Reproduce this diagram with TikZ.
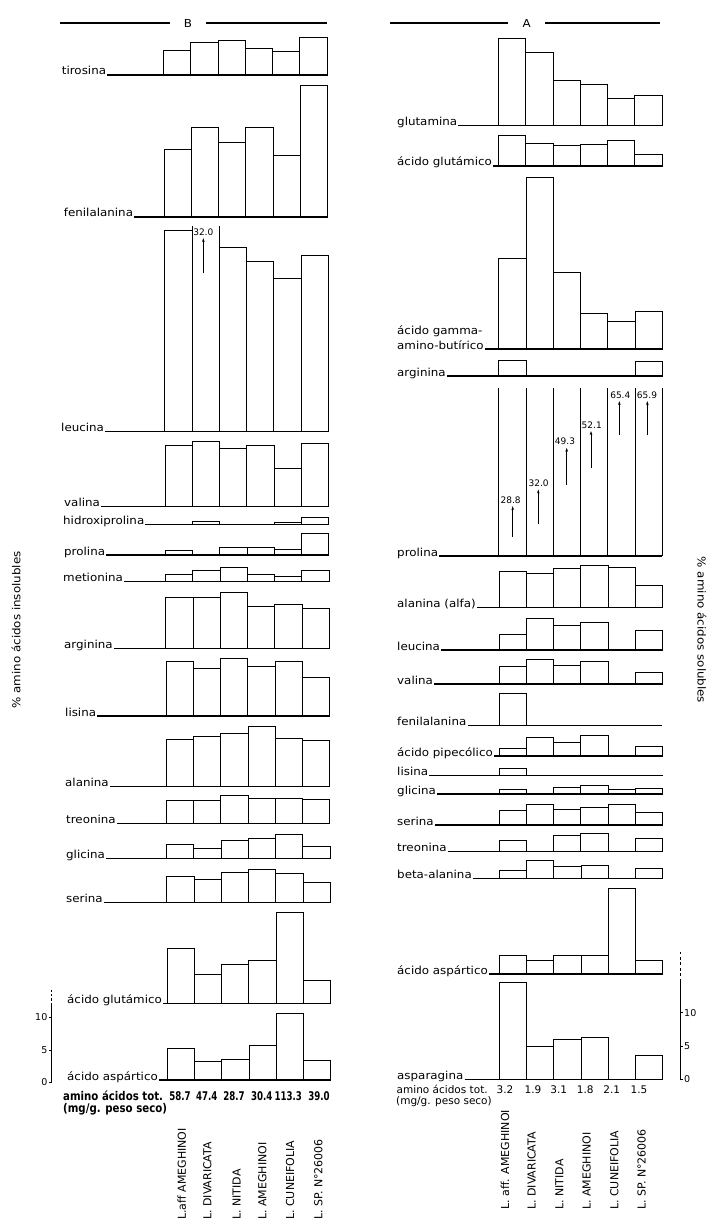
\documentclass[tikz,border=0pt]{standalone}
\usepackage{fontspec}
\setmainfont{DejaVu Sans}
\newfontfamily\labf[FakeStretch=1.08]{DejaVu Sans}
\newfontfamily\condf[FakeStretch=0.85]{DejaVu Sans}
\newfontfamily\condnf[FakeStretch=0.72]{DejaVu Sans}
\usetikzlibrary{arrows.meta}
\tikzset{
  lab/.style={anchor=base west, inner sep=1pt, font=\labf\fontsize{11}{12}\selectfont},
  barbox/.style={line width=0.7pt},
  axisln/.style={line width=1.1pt},
  titleln/.style={line width=1.6pt},
  ttl/.style={inner xsep=14pt, inner ysep=0pt, font=\labf\fontsize{11}{12}\selectfont},
  numl/.style={inner sep=1pt, font=\fontsize{9}{10}\selectfont},
  arr/.style={-{Stealth[length=4pt,width=2.6pt]}, line width=0.7pt, shorten >=1.5pt},
  spl/.style={rotate=90, anchor=west, inner sep=0pt, font=\fontsize{11}{12}\selectfont},
  yttl/.style={inner sep=0pt, font=\labf\fontsize{11}{12}\selectfont},
  brow/.style={inner sep=0pt, anchor=base west, font=\condf\bfseries\fontsize{12}{13}\selectfont},
  bnum/.style={inner sep=0pt, anchor=base, font=\condnf\bfseries\fontsize{12}{13}\selectfont},
  rrow/.style={inner sep=0pt, anchor=base west, font=\fontsize{10.5}{11}\selectfont},
  tick/.style={line width=1pt},
  ticklab/.style={inner sep=0pt, font=\fontsize{9.5}{10}\selectfont}
}
% #1 name, #2 panel x0 (at y=40), #3 skew, #4 label x, #5 baseline y, #6 text, #7 tops
\newcommand\chartrow[7]{%
  \pgfmathsetmacro\bx{#2+#3*(#5-40)/1040}%
  \foreach \t [count=\i from 0] in {#7}{%
    \ifdim \t pt>0pt
      \draw[barbox] ({\bx+\i*27.25},#5) rectangle ({\bx+(\i+1)*27.25},\t);
    \else\ifdim \t pt<0pt
      \draw[barbox] ({\bx+\i*27.25},#5) -- ({\bx+\i*27.25},{-\t})
                    ({\bx+(\i+1)*27.25},#5) -- ({\bx+(\i+1)*27.25},{-\t});
    \fi\fi
  }%
  \node[lab] (#1) at (#4,#5) {#6};
  \coordinate (#1e) at ({\bx+163.5},#5);
  \draw[axisln] (#1.base east) -- (#1e);
}
\begin{document}
\begin{tikzpicture}[x=1pt,y=-1pt]
\useasboundingbox (0,0) rectangle (709,1222);

% titles
\node[ttl] (tB) at (188,23) {B};
\coordinate (tBl) at (60,23); \coordinate (tBr) at (327,23);
\draw[titleln] (tBl) -- (tB.west) (tB.east) -- (tBr);
\node[ttl] (tA) at (526.7,23) {A};
\coordinate (tAl) at (390,23); \coordinate (tAr) at (660,23);
\draw[titleln] (tAl) -- (tA.west) (tA.east) -- (tAr);

% ---------- panel B (insolubles) ----------
\chartrow{Ltir}{163.3}{4}{60.7}{75}{tirosina}{50,42.7,40.3,48.3,51.7,37.3}
\chartrow{Lfen}{163.3}{4}{62.7}{217}{fenilalanina}{149.3,127,142.7,127,155.7,85}
\chartrow{Lleu}{163.3}{4}{60}{431.7}{leucina}{230.7,-226,247.3,261,278.3,255.7}
\chartrow{Lval}{163.3}{4}{63}{506.7}{valina}{445.3,441.3,448.7,445.3,468.3,443.7}
\chartrow{Lhid}{163.3}{4}{62}{524.3}{hidroxiprolina}{0,521.7,0,0,522,517.7}
\chartrow{Lpro}{163.3}{4}{63}{555}{prolina}{550.7,0,547.7,547,549.3,533.3}
\chartrow{Lmet}{163.3}{4}{62}{581.7}{metionina}{574.3,570.7,567.3,574,576,570.3}
\chartrow{Larg}{163.3}{4}{63}{648.3}{arginina}{597.3,597.3,592.7,606,604,608}
\chartrow{Llis}{163.3}{4}{64}{716}{lisina}{661.7,668.7,658,666.7,661,677.3}
\chartrow{Lala}{163.3}{4}{64}{786.7}{alanina}{739,736.7,733.3,726.7,738.3,740}
\chartrow{Ltre}{163.3}{4}{65}{823.3}{treonina}{800.7,800.7,795,798.3,798.3,799.3}
\chartrow{Lgli}{163.3}{4}{65}{858.3}{glicina}{844.3,848,840.7,838.3,834.3,846.7}
\chartrow{Lser}{163.3}{4}{65}{902.7}{serina}{876,879.3,872.7,869.3,873.3,882}
\chartrow{Lglu}{163.3}{4}{66}{1003.3}{ácido glutámico}{948.7,974.7,964.3,960.7,912.3,980.7}
\chartrow{Lasp}{163.3}{4}{66}{1080}{ácido aspártico}{1048.3,1061.3,1059,1045,1013.3,1060.3}

\node[numl] (L32) at (203.3,232) {32.0};
\coordinate (L32a) at (203.3,273.3);
\draw[arr] (L32a) -- (L32a |- L32.south);

% left scale
\coordinate (Lax0) at (51.7,1082); \coordinate (Lax1) at (51.7,1005); \coordinate (Lax2) at (51.7,990);
\draw[tick] (Lax0) -- (Lax1);
\draw[tick, dashed, dash pattern=on 2.5pt off 2pt] (Lax1) -- (Lax2);
\draw[tick] (51.7,1082) -- ++(-3,0) (51.7,1050) -- ++(-3,0) (51.7,1017) -- ++(-3,0);
\node[ticklab, anchor=east] (Lt0) at (47.5,1082) {0};
\node[ticklab, anchor=east] (Lt5) at (47.5,1050) {5};
\node[ticklab, anchor=east] (Lt10) at (47.5,1017) {10};

\node[brow] (LtotA) at (63,1100) {amino ácidos tot.};
\foreach \v/\x [count=\k] in {58.7/180,47.4/206.7,28.7/234,30.4/261.7,113.3/288.3,39.0/319}
  \node[bnum] (Ln\k) at (\x,1100) {\v};
\node[brow] (LtotB) at (63,1112.5) {(mg/g. peso seco)};

\node[spl] (Ls1) at (181.7,1220) {L.aff AMEGHINOI};
\node[spl] (Ls2) at (207.3,1220) {L. DIVARICATA};
\node[spl] (Ls3) at (236.7,1220) {L. NITIDA};
\node[spl] (Ls4) at (262.3,1220) {L. AMEGHINOI};
\node[spl] (Ls5) at (290,1220) {L. CUNEIFOLIA};
\node[spl] (Ls6) at (318.3,1220) {L. SP. N°26006};

\node[yttl, rotate=90] (yL) at (16,630) {\% amino ácidos insolubles};

% ---------- panel A (solubles) ----------
\chartrow{Rglm}{498.3}{1}{396}{125.7}{glutamina}{38.3,52.7,80,84.3,98.3,95.7}
\chartrow{Rglu}{498.3}{1}{396}{166}{ácido glutámico}{135.3,143.3,145.3,144,140.3,154.3}
\chartrow{Rgab}{498.3}{1}{396}{349}{amino-butírico}{258.7,177.3,272.7,313.7,321,311}
\node[lab] (Rgab1) at (396,334) {ácido gamma-};
\chartrow{Rarg}{498.3}{1}{396}{376}{arginina}{360,0,0,0,0,361.3}
\chartrow{Rpro}{498.3}{1}{396}{556}{prolina}{-388.3,-388.3,-388.3,-388.3,-388.3,-388.3}
\chartrow{Rala}{498.3}{1}{396}{607.7}{alanina (alfa)}{571.7,573.3,568.3,565.7,567.7,585}
\chartrow{Rleu}{498.3}{1}{396}{650}{leucina}{634.3,618.3,625.3,622.3,0,630}
\chartrow{Rval}{498.3}{1}{396}{684}{valina}{666,659.3,665,661.3,0,672.3}
\chartrow{Rfen}{498.3}{1}{396}{725.3}{fenilalanina}{693.3,0,0,0,0,0}
\chartrow{Rpip}{498.3}{1}{396}{756}{ácido pipecólico}{748.3,737.7,742.3,735,0,746.7}
\chartrow{Rlis}{498.3}{1}{396}{775.7}{lisina}{768.7,0,0,0,0,0}
\chartrow{Rgli}{498.3}{1}{396}{794}{glicina}{789.3,0,787.3,785.3,789.3,788}
\chartrow{Rser}{498.3}{1}{396}{825}{serina}{810.7,804,809.3,807.7,804.3,812.3}
\chartrow{Rtre}{498.3}{1}{396}{851.7}{treonina}{840.7,0,835.3,833.3,0,838.3}
\chartrow{Rbal}{498.3}{1}{396}{878.3}{beta-alanina}{870.7,860,866,865,0,868.3}
\chartrow{Rasp}{498.3}{1}{396}{974}{ácido aspártico}{955,960,955.7,955.7,888.3,960.7}
\chartrow{Rasn}{498.3}{1}{396}{1079.3}{asparagina}{982.7,1046.7,1039.3,1037.3,0,1055.7}

% prolina values
\foreach \v/\x/\y/\ax/\ay [count=\k] in {28.8/510.7/500/512.7/536.7, 32.0/538.7/483.3/538.3/524,
   49.3/565/441.7/566.7/485, 52.1/591.7/425/591/468.3, 65.4/620.3/395/619.3/435, 65.9/647/395/647.3/435}{
  \node[numl] (pr\k) at (\x,\y) {\v};
  \coordinate (pa\k) at (\ax,\ay);
  \draw[arr] (pa\k) -- (pa\k |- pr\k.south);
}

% right scale
\coordinate (Rax0) at (680,1079.3); \coordinate (Rax1) at (680,981.7); \coordinate (Rax2) at (680,951.7);
\draw[tick] (Rax0) -- (Rax1);
\draw[tick, dashed, dash pattern=on 3pt off 2.5pt] (Rax1) -- (Rax2);
\draw[tick] (680,1079.3) -- ++(3,0) (680,1046) -- ++(3,0) (680,1012.7) -- ++(3,0);
\node[ticklab, anchor=west] (Rt0) at (684,1079.3) {0};
\node[ticklab, anchor=west] (Rt5) at (684,1046) {5};
\node[ticklab, anchor=west] (Rt10) at (684,1012.7) {10};

\node[rrow] (RtotA) at (396.5,1093) {amino ácidos tot.};
\foreach \v/\x [count=\k] in {3.2/505,1.9/533,3.1/558.8,1.8/585.3,2.1/611.7,1.5/639}
  \node[rrow, anchor=base] (Rn\k) at (\x,1093) {\v};
\node[rrow] (RtotB) at (396,1104) {(mg/g. peso seco)};

\node[spl] (Rs1) at (505,1210) {L. aff. AMEGHINOI};
\node[spl] (Rs2) at (531.7,1210) {L. DIVARICATA};
\node[spl] (Rs3) at (559.3,1210) {L. NITIDA};
\node[spl] (Rs4) at (586.7,1210) {L. AMEGHINOI};
\node[spl] (Rs5) at (614.3,1210) {L. CUNEIFOLIA};
\node[spl] (Rs6) at (641.7,1210) {L. SP. N°26006};

\node[yttl, rotate=-90] (yR) at (702,630) {\% amino ácidos solubles};
\end{tikzpicture}
\end{document}
